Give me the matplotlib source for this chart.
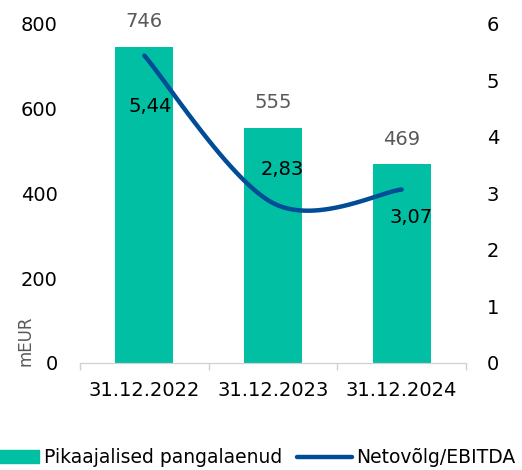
import numpy as np
import matplotlib.pyplot as plt
from matplotlib.lines import Line2D
from matplotlib.patches import Patch

dates = ["31.12.2022", "31.12.2023", "31.12.2024"]
loans = [746, 555, 469]
ratio = [5.44, 2.83, 3.07]
ratio_labels = ["5,44", "2,83", "3,07"]
# label offsets (points) for ratio labels, relative to their point
ratio_offsets = [(4, -37), (7, 24), (7, -20)]

teal = "#00BFA3"
blue = "#004C97"

plt.rcParams['font.family'] = ['DejaVu Sans']

fig = plt.figure(figsize=(5.22, 4.70), dpi=100)
ax = fig.add_axes([0.1533, 0.2277, 0.7394, 0.7213])
ax2 = ax.twinx()

x = np.arange(len(dates))
ax.bar(x, loans, width=0.45, color=teal, zorder=2)
for xi, v in zip(x, loans):
    ax.annotate(str(v), (xi, v), xytext=(0, 18), textcoords='offset points',
                ha='center', va='center', fontsize=14, color='#595959')

# smoothed line (Catmull-Rom style bezier, like Excel)
pts = np.column_stack([x, ratio]).astype(float)
curve = []
t = np.linspace(0, 1, 60)[:, None]
for i in range(len(pts) - 1):
    p0 = pts[max(i - 1, 0)]
    p1 = pts[i]
    p2 = pts[i + 1]
    p3 = pts[min(i + 2, len(pts) - 1)]
    c1 = p1 + (p2 - p0) / 6
    c2 = p2 - (p3 - p1) / 6
    seg = (1 - t) ** 3 * p1 + 3 * (1 - t) ** 2 * t * c1 + 3 * (1 - t) * t ** 2 * c2 + t ** 3 * p2
    curve.append(seg)
curve = np.vstack(curve)
ax2.plot(curve[:, 0], curve[:, 1], color=blue, lw=3.2, solid_capstyle='round', zorder=3)
for xi, v, lab, off in zip(x, ratio, ratio_labels, ratio_offsets):
    ax2.annotate(lab, (xi, v), xytext=off, textcoords='offset points',
                 ha='center', va='center', fontsize=14, color='black')

ax.set_xlim(-0.5, 2.5)
ax.set_ylim(0, 800)
ax2.set_ylim(0, 6)
ax.set_yticks([0, 200, 400, 600, 800])
ax2.set_yticks(range(7))
ax.set_xticks(x)
ax.set_xticklabels(dates, fontsize=14)
ax.set_xticks([-0.5, 0.5, 1.5, 2.5], minor=True)
ax.tick_params(axis='x', which='major', length=0, pad=13)
ax.tick_params(axis='x', which='minor', length=5, color='#D0D0D0', width=1)
ax.tick_params(axis='y', length=0, labelsize=14, pad=16)
ax2.tick_params(axis='y', length=0, labelsize=14, pad=15)

for a in (ax, ax2):
    for s in ('top', 'left', 'right'):
        a.spines[s].set_visible(False)
    a.spines['bottom'].set_color('#D0D0D0')

fig.text(0.048, 0.275, "mEUR", rotation=90, ha='center', va='center',
         fontsize=12, color='#595959')

handles = [Patch(color=teal), Line2D([0], [0], color=blue, lw=3.2, solid_capstyle='round')]
fig.legend(handles, ["Pikaajalised pangalaenud", "Netovõlg/EBITDA"], loc='center left',
           bbox_to_anchor=(-16 / 522, 0.026), ncol=2, frameon=False, fontsize=13.5,
           handlelength=2.93, handletextpad=0.25, columnspacing=0.8, borderpad=0,
           borderaxespad=0)

fig.savefig("out.png", dpi=100)
